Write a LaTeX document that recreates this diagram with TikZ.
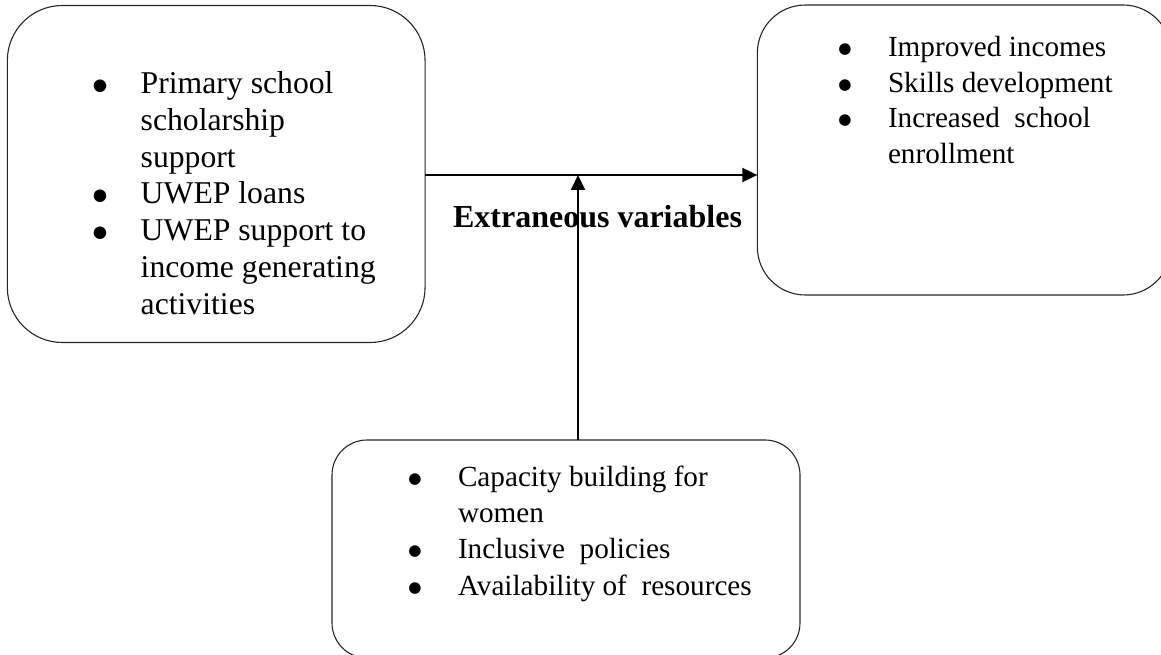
\documentclass[tikz,border=0pt]{standalone}
\usepackage{graphicx}
\usepackage{fontspec}
\setmainfont{Liberation Serif}
\newfontfamily\bulletfont{DejaVu Sans}
\usetikzlibrary{arrows.meta}
\newcommand\bul{\raisebox{0.1em}{\scalebox{0.52}{\bulletfont ●}}}
\newcommand\bitem[2]{\makebox[#1][l]{\makebox[0pt]{\bul}}#2}
\newcommand\citem[2]{\makebox[#1][l]{}#2}
\tikzset{
  varbox/.style={draw=black!85, line width=1.1pt, inner sep=0pt, outer sep=0pt},
  listtext/.style={anchor=base west, inner sep=0pt, outer sep=0pt, align=left},
  link/.style={line width=2pt, -{Triangle[length=15pt,width=14pt]}}
}
\begin{document}
\begin{tikzpicture}[x=1pt,y=-1pt]
\useasboundingbox (0,0) rectangle (1161,655);
\clip (0,0) rectangle (1161,655);
% boxes
\node[varbox, rounded corners=55pt, minimum width=417.7pt, minimum height=337pt] (indep) at (216.2,174) {};
\node[varbox, rounded corners=48pt, minimum width=413.7pt, minimum height=290pt] (dep) at (964.2,150) {};
\node[varbox, rounded corners=35pt, minimum width=468pt, minimum height=218pt] (ctrl) at (566,549) {};
% texts
\node[listtext, font=\fontsize{31.7}{36.8}\selectfont] (indeptext) at (100,93.5) {\begin{tabular}[t]{@{}l@{}}
\bitem{40.7pt}{Primary school}\\
\citem{40.7pt}{scholarship}\\
\citem{40.7pt}{support}\\
\bitem{40.7pt}{UWEP loans}\\
\bitem{40.7pt}{UWEP support to}\\
\citem{40.7pt}{income generating}\\
\citem{40.7pt}{activities}
\end{tabular}};
\node[listtext, font=\fontsize{29.2}{35.5}\selectfont] (deptext) at (845,56.7) {\begin{tabular}[t]{@{}l@{}}
\bitem{43pt}{Improved incomes}\\
\bitem{43pt}{Skills development}\\
\bitem{43pt}{Increased\ \ school}\\
\citem{43pt}{enrollment}
\end{tabular}};
\node[listtext, font=\fontsize{29.2}{36.1}\selectfont] (ctrltext) at (415,486.7) {\begin{tabular}[t]{@{}l@{}}
\bitem{43pt}{Capacity building for}\\
\citem{43pt}{women}\\
\bitem{43pt}{Inclusive\ \ policies}\\
\bitem{43pt}{Availability of\ \ resources}
\end{tabular}};
\node[anchor=base, inner sep=0pt, font=\fontsize{32}{36}\selectfont\bfseries] (ext) at (597.5,227) {Extraneous variables};
% connectors
\coordinate (junction) at (578,175);
\draw[link] (indep.east |- junction) -- (indep.east |- junction -| dep.west);
\draw[link] (ctrl.north -| junction) -- (junction);
\end{tikzpicture}
\end{document}
